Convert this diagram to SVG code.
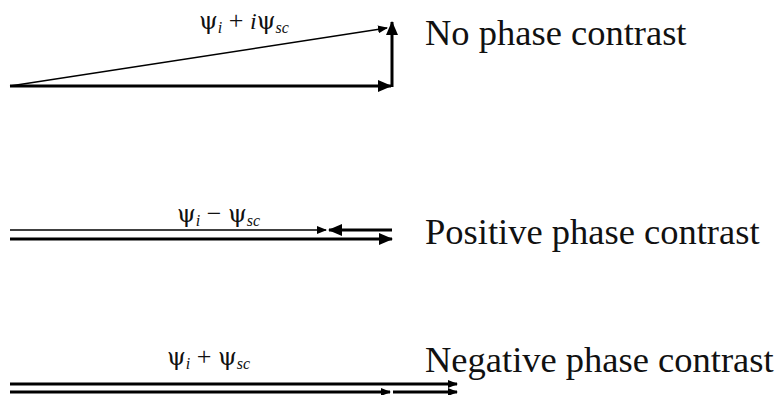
<svg xmlns="http://www.w3.org/2000/svg" width="779" height="395" viewBox="0 0 779 395">
<style>
.lbl{font-family:"Liberation Serif","Times New Roman",serif;font-size:36.5px;fill:#111}
.m{font-family:"DejaVu Serif","Liberation Serif",serif;font-size:24px;fill:#111}
.s{font-family:"Liberation Serif","Times New Roman",serif;font-style:italic;font-size:16px}
.op{font-family:"Liberation Serif","Times New Roman",serif;font-size:26px}
.thick{stroke:#000;stroke-width:3;fill:none}
.thin{stroke:#000;stroke-width:1.5;fill:none}
</style>
<defs>
<marker id="big" markerUnits="userSpaceOnUse" markerWidth="14" markerHeight="12" refX="13" refY="6" orient="auto"><path d="M0,0 L14,6 L0,12 z" fill="#000"/></marker>
<marker id="small" markerUnits="userSpaceOnUse" markerWidth="10" markerHeight="8" refX="9" refY="4" orient="auto"><path d="M0,0 L10,4 L0,8 z" fill="#000"/></marker>
</defs>
<rect width="779" height="395" fill="#fff"/>
<g id="connectors">
<line class="thick" x1="10" y1="86" x2="391" y2="86" marker-end="url(#big)"/>
<line class="thick" x1="392" y1="87" x2="392" y2="22" marker-end="url(#big)"/>
<line class="thin" x1="10" y1="86" x2="387" y2="28" marker-end="url(#small)"/>
<line class="thin" x1="10" y1="230" x2="326" y2="230" marker-end="url(#small)"/>
<line class="thick" x1="392" y1="230" x2="329" y2="230" stroke-width="2.5" marker-end="url(#big)"/>
<line class="thick" x1="10" y1="239" x2="392" y2="239" marker-end="url(#big)"/>
<line class="thick" x1="10" y1="384" x2="457" y2="384" stroke-width="2.5" marker-end="url(#small)"/>
<line class="thick" x1="10" y1="392" x2="390" y2="392" marker-end="url(#small)"/>
<line class="thick" x1="393" y1="392" x2="457" y2="392" marker-end="url(#small)"/>
</g>
<g id="label-no">
<text class="m" x="199" y="29">ψ<tspan class="s" dy="4">i</tspan><tspan class="op" dy="-4"> + </tspan><tspan class="s" style="font-size:24px">i</tspan>ψ<tspan class="s" dy="4">sc</tspan></text>
<text class="lbl" x="425" y="45">No phase contrast</text>
</g>
<g id="label-pos">
<text class="m" x="177" y="222">ψ<tspan class="s" dy="4">i</tspan><tspan class="op" dy="-4"> − </tspan>ψ<tspan class="s" dy="4">sc</tspan></text>
<text class="lbl" x="425" y="244">Positive phase contrast</text>
</g>
<g id="label-neg">
<text class="m" x="167" y="365">ψ<tspan class="s" dy="4">i</tspan><tspan class="op" dy="-4"> + </tspan>ψ<tspan class="s" dy="4">sc</tspan></text>
<text class="lbl" x="425" y="372">Negative phase contrast</text>
</g>
</svg>
